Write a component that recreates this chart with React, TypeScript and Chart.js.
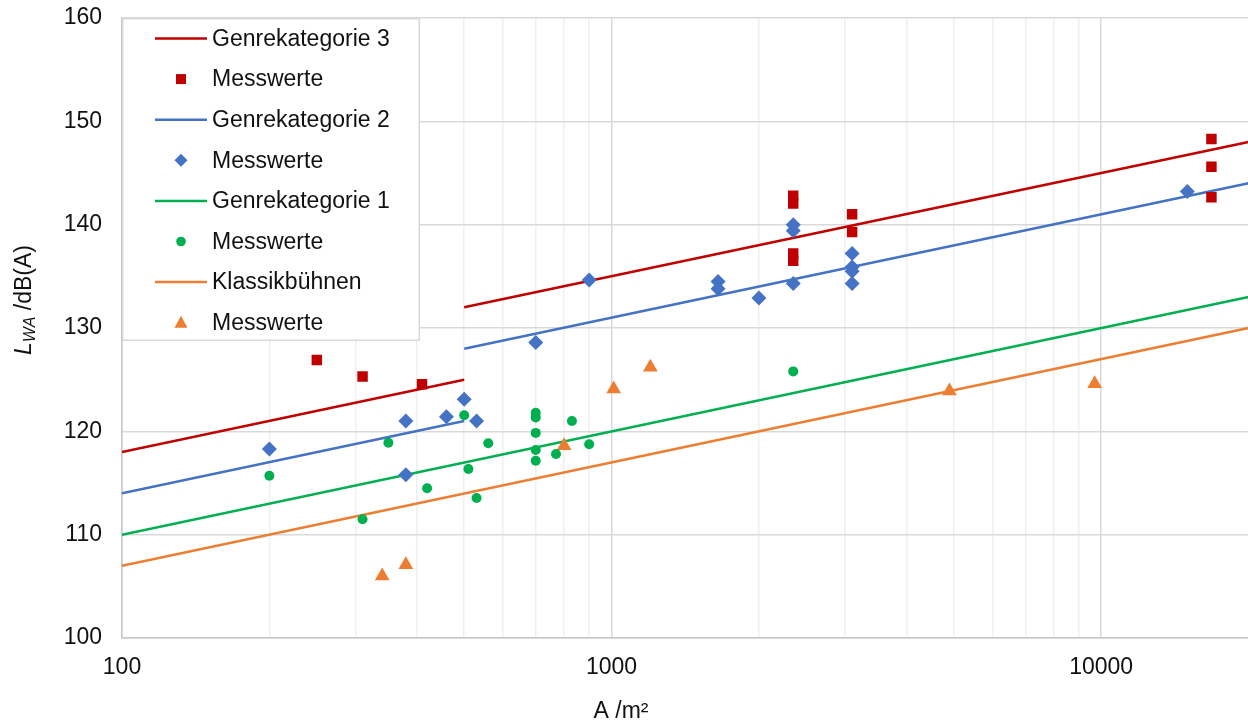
import React, { useEffect, useRef } from "react";
import { Chart, registerables } from "chart.js";

Chart.register(...registerables);

const FONT = "'Liberation Sans', Arial, Helvetica, sans-serif";

// Axis ranges and ticks
const xMin = 100;
const xMax = 20000;
const yMin = 100;
const yMax = 160;
const xTickValues = [100, 200, 300, 400, 500, 600, 700, 800, 900, 1000, 2000, 3000, 4000, 5000, 6000, 7000, 8000, 9000, 10000, 20000];
const xTickLabels = ["100", "1000", "10000"];

// Colors
const RED = "#C00000";
const BLUE = "#4472C4";
const GREEN = "#00B050";
const ORANGE = "#ED7D31";

// Regression lines (A in m², L in dB(A))
const g3LineAX = [100, 500];
const g3LineAY = [118, 125];
const g3LineBX = [500, 20000];
const g3LineBY = [132, 148];

const g2LineAX = [100, 500];
const g2LineAY = [114, 121];
const g2LineBX = [500, 20000];
const g2LineBY = [128, 144];

const g1LineX = [100, 20000];
const g1LineY = [110, 133];

const klLineX = [100, 20000];
const klLineY = [107, 130];

// Measured values
const g3X = [250, 310, 410, 2350, 2350, 2350, 2350, 3100, 3100, 16800, 16800, 16800];
const g3Y = [126.9, 125.3, 124.55, 142.8, 142.05, 137.2, 136.5, 141.0, 139.3, 148.3, 145.6, 142.65];

const g2X = [200, 380, 380, 460, 500, 530, 700, 900, 1650, 1650, 2000, 2350, 2350, 2350, 3100, 3100, 3100, 3100, 15000];
const g2Y = [118.3, 121.0, 115.8, 121.4, 123.1, 121.0, 128.6, 134.65, 134.5, 133.8, 132.9, 140.0, 139.4, 134.3, 137.2, 135.9, 135.5, 134.3, 143.2];

const g1X = [200, 310, 350, 420, 500, 510, 530, 560, 700, 700, 700, 700, 700, 770, 830, 900, 2350];
const g1Y = [115.7, 111.5, 118.9, 114.5, 121.55, 116.35, 113.55, 118.85, 121.8, 121.35, 119.85, 118.2, 117.15, 117.8, 121.0, 118.75, 125.8];

const klX = [340, 380, 800, 1010, 1200, 4900, 9700];
const klY = [106.0, 107.1, 118.6, 124.1, 126.2, 123.9, 124.6];

// Legend
const legendLabels = ["Genrekategorie 3", "Messwerte", "Genrekategorie 2", "Messwerte", "Genrekategorie 1", "Messwerte", "Klassikbühnen", "Messwerte"];
const legendKinds = ["line", "rect", "line", "diamond", "line", "circle", "line", "triangle"];
const legendColors = [RED, RED, BLUE, BLUE, GREEN, GREEN, ORANGE, ORANGE];

const toPts = (xs: number[], ys: number[]) => xs.map((x, i) => ({ x, y: ys[i] }));
const isDecade = (v: number) => Math.abs(Math.log10(v) - Math.round(Math.log10(v))) < 1e-9;

function lineDs(xs: number[], ys: number[], color: string) {
  return {
    data: toPts(xs, ys),
    showLine: true,
    borderColor: color,
    backgroundColor: color,
    borderWidth: 2.5,
    pointRadius: 0,
    pointHoverRadius: 0,
    fill: false,
  };
}

function pointDs(xs: number[], ys: number[], color: string, style: string, radius: number) {
  return {
    data: toPts(xs, ys),
    showLine: false,
    pointStyle: style,
    pointRadius: radius,
    pointHoverRadius: radius,
    pointBackgroundColor: color,
    pointBorderColor: color,
    pointBorderWidth: 0,
    backgroundColor: color,
    borderColor: color,
  };
}

function drawMarker(ctx: CanvasRenderingContext2D, kind: string, x: number, y: number, color: string) {
  ctx.fillStyle = color;
  ctx.beginPath();
  if (kind === "rect") {
    ctx.rect(x - 5, y - 5, 10, 10);
  } else if (kind === "diamond") {
    ctx.moveTo(x, y - 6.5);
    ctx.lineTo(x + 6.5, y);
    ctx.lineTo(x, y + 6.5);
    ctx.lineTo(x - 6.5, y);
    ctx.closePath();
  } else if (kind === "circle") {
    ctx.arc(x, y, 4.8, 0, Math.PI * 2);
  } else if (kind === "triangle") {
    ctx.moveTo(x, y - 7);
    ctx.lineTo(x + 6.5, y + 5);
    ctx.lineTo(x - 6.5, y + 5);
    ctx.closePath();
  }
  ctx.fill();
}

const decorPlugin = {
  id: "decor",
  afterDraw(chart: any) {
    const ctx: CanvasRenderingContext2D = chart.ctx;
    const area = chart.chartArea;
    ctx.save();

    // Legend box
    const lx = area.left;
    const ly = area.top;
    const lw = 298;
    const lh = 323;
    ctx.fillStyle = "#ffffff";
    ctx.fillRect(lx, ly, lw, lh);
    ctx.strokeStyle = "#d9d9d9";
    ctx.lineWidth = 1.5;
    ctx.strokeRect(lx + 0.75, ly + 0.75, lw - 1.5, lh - 1.5);

    ctx.font = `23px ${FONT}`;
    ctx.textBaseline = "middle";
    ctx.textAlign = "left";
    legendLabels.forEach((label, i) => {
      const y = ly + 20.5 + i * 40.6;
      const kind = legendKinds[i];
      const color = legendColors[i];
      if (kind === "line") {
        ctx.strokeStyle = color;
        ctx.lineWidth = 2.5;
        ctx.beginPath();
        ctx.moveTo(lx + 33, y);
        ctx.lineTo(lx + 85, y);
        ctx.stroke();
      } else {
        drawMarker(ctx, kind, lx + 59, y, color);
      }
      ctx.fillStyle = "#111111";
      ctx.fillText(label, lx + 90, y + 1);
    });

    // Y axis title: L_WA /dB(A)
    const partL = "L";
    const partSub = "WA";
    const partRest = " /dB(A)";
    const fMain = `23px ${FONT}`;
    const fItal = `italic 23px ${FONT}`;
    const fSub = `italic 16px ${FONT}`;
    ctx.font = fItal;
    const wL = ctx.measureText(partL).width;
    ctx.font = fSub;
    const wSub = ctx.measureText(partSub).width;
    ctx.font = fMain;
    const wRest = ctx.measureText(partRest).width;
    const total = wL + wSub + wRest;
    ctx.translate(0, 300);
    ctx.rotate(-Math.PI / 2);
    ctx.textBaseline = "alphabetic";
    ctx.fillStyle = "#111111";
    let cx = -total / 2;
    const base = 31;
    ctx.font = fItal;
    ctx.fillText(partL, cx, base);
    cx += wL;
    ctx.font = fSub;
    ctx.fillText(partSub, cx, base + 4);
    cx += wSub;
    ctx.font = fMain;
    ctx.fillText(partRest, cx, base);
    ctx.setTransform(1, 0, 0, 1, 0, 0);

    // X axis title
    ctx.font = fMain;
    ctx.textAlign = "center";
    ctx.textBaseline = "middle";
    ctx.fillStyle = "#111111";
    ctx.fillText("A /m²", 621, 712);

    ctx.restore();
  },
};

export default function App() {
  const ref = useRef<HTMLCanvasElement>(null);

  useEffect(() => {
    const canvas = ref.current;
    if (!canvas) return;
    const chart = new Chart(canvas, {
      type: "scatter",
      data: {
        datasets: [
          pointDs(g3X, g3Y, RED, "rect", 7.4),
          pointDs(g2X, g2Y, BLUE, "rectRot", 7.5),
          pointDs(g1X, g1Y, GREEN, "circle", 5),
          pointDs(klX, klY, ORANGE, "triangle", 8.5),
          lineDs(g3LineAX, g3LineAY, RED),
          lineDs(g3LineBX, g3LineBY, RED),
          lineDs(g2LineAX, g2LineAY, BLUE),
          lineDs(g2LineBX, g2LineBY, BLUE),
          lineDs(g1LineX, g1LineY, GREEN),
          lineDs(klLineX, klLineY, ORANGE),
        ] as any,
      },
      options: {
        animation: false,
        responsive: false,
        devicePixelRatio: 1,
        events: [],
        layout: { padding: { top: 18, right: 0, left: 0, bottom: 0 } },
        plugins: {
          legend: { display: false },
          tooltip: { enabled: false },
        },
        scales: {
          x: {
            type: "logarithmic",
            min: xMin,
            max: xMax,
            afterFit: (s: any) => {
              s.height = 90;
              s.paddingLeft = 0;
              s.paddingRight = 0;
            },
            afterBuildTicks: (s: any) => {
              s.ticks = xTickValues.map((v) => ({ value: v }));
            },
            grid: {
              color: (c: any) => (c.tick && isDecade(c.tick.value) ? "#d9d9d9" : "#efefef"),
              lineWidth: 1.5,
              drawTicks: false,
            },
            border: { color: "#c8c8c8", width: 1.5 },
            ticks: {
              autoSkip: false,
              maxRotation: 0,
              minRotation: 0,
              padding: 16,
              color: "#111111",
              font: { family: FONT, size: 23 },
              callback: (v: any) => {
                const s = String(v);
                return isDecade(Number(v)) && xTickLabels.includes(s) ? s : "";
              },
            },
          },
          y: {
            type: "linear",
            min: yMin,
            max: yMax,
            afterFit: (s: any) => {
              s.width = 122;
              s.paddingTop = 0;
              s.paddingBottom = 0;
            },
            grid: { color: "#d9d9d9", lineWidth: 1.5, drawTicks: false },
            border: { color: "#c8c8c8", width: 1.5 },
            ticks: {
              stepSize: 10,
              padding: 20,
              color: "#111111",
              font: { family: FONT, size: 23 },
            },
          },
        },
      } as any,
      plugins: [decorPlugin],
    });
    return () => chart.destroy();
  }, []);

  return (
    <div style={{ position: "fixed", left: 0, top: 0, width: 1248, height: 728, overflow: "hidden", background: "#ffffff" }}>
      <canvas ref={ref} width={1257} height={728} style={{ display: "block" }} />
    </div>
  );
}
